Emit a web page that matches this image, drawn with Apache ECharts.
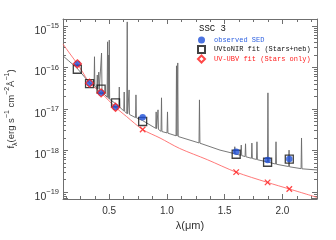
<!DOCTYPE html>
<html><head><meta charset="utf-8">
<script src="https://cdn.jsdelivr.net/npm/echarts@6/dist/echarts.min.js"></script>
<style>html,body{margin:0;padding:0;background:#fff}#c{width:336px;height:240px}</style>
</head><body><div id="c"></div>
<script>
// ---- data ----
const bandWave = [0.224, 0.330, 0.430, 0.555, 0.790, 1.600, 1.872, 2.060];
const observedFlux = [1.23e-16, 4.17e-17, 2.45e-17, 1.10e-17, 6.3e-18, 9.3e-19, 5.9e-19, 6.2e-19];
const uvNirFitFlux = [9.1e-17, 4.1e-17, 3.0e-17, 1.41e-17, 5.0e-18, 8.1e-19, 5.2e-19, 6.2e-19];
const uvUbvFitFlux = [1.23e-16, 4.2e-17, 2.45e-17, 1.10e-17, 3.2e-18, 3.0e-19, 1.7e-19, 1.18e-19];
const uvUbvInFit = [true, true, true, true, false, false, false, false];

const redModelWave = [0.10, 0.15, 0.224, 0.28, 0.33, 0.43, 0.555, 0.65, 0.79, 0.94, 1.11, 1.35, 1.60, 1.87, 2.06, 2.30];
const redModelFlux = [3.7e-16, 2.35e-16, 1.23e-16, 7.0e-17, 4.2e-17, 2.45e-17, 1.1e-17, 6.6e-18, 3.2e-18, 2.0e-18, 1.12e-18, 6.0e-19, 3.0e-19, 1.7e-19, 1.18e-19, 7.4e-20];

const specWave = [0.100, 0.150, 0.220, 0.330, 0.369, 0.3727, 0.376, 0.393, 0.397, 0.401, 0.406, 0.410, 0.414,
  0.430, 0.434, 0.438, 0.482, 0.4861, 0.490, 0.4925, 0.4959, 0.4983, 0.5007, 0.504, 0.560, 0.584, 0.5876, 0.591,
  0.626, 0.630, 0.634, 0.652, 0.6563, 0.660, 0.669, 0.6725, 0.676, 0.728, 0.732, 0.736, 0.790,
  0.903, 0.9069, 0.911, 0.919, 0.923, 0.927, 0.949, 0.9532, 0.957, 1.001, 1.005, 1.009,
  1.079, 1.083, 1.087, 1.090, 1.094, 1.098, 1.278, 1.282, 1.286, 1.460,
  1.584, 1.588, 1.592, 1.640, 1.644, 1.648, 1.677, 1.681, 1.685, 1.732, 1.736, 1.740, 1.776, 1.780, 1.784,
  1.871, 1.875, 1.879, 1.941, 1.945, 1.949, 2.054, 2.058, 2.062, 2.162, 2.166, 2.170, 2.300];
const specFlux = [1.905e-16, 1.445e-16, 9.77e-17, 4.27e-17, 3.63e-17, 1.82e-16, 3.6e-17, 3.1e-17, 6.61e-17, 3.05e-17, 2.97e-17, 7.76e-17, 2.93e-17,
  2.69e-17, 2.24e-16, 2.6e-17, 1.93e-17, 4.17e-16, 1.89e-17, 1.8e-17, 2.0e-16, 1.77e-17, 4.57e-16, 1.72e-17, 1.32e-17, 1.13e-17, 3.39e-17, 1.11e-17,
  9.0e-18, 2.57e-17, 8.8e-18, 7.8e-18, 1.26e-15, 7.7e-18, 7.45e-18, 2.88e-17, 7.37e-18, 6.2e-18, 2.19e-17, 6.13e-18, 5.25e-18,
  3.42e-18, 8.51e-18, 3.36e-18, 3.27e-18, 9.55e-18, 3.21e-18, 2.9e-18, 1.86e-17, 2.86e-18, 2.65e-18, 8.51e-18, 2.61e-18,
  2.26e-18, 1.10e-16, 2.23e-18, 2.21e-18, 1.29e-16, 2.17e-18, 1.52e-18, 1.66e-17, 1.50e-18, 1.02e-18,
  8.4e-19, 1.23e-18, 8.25e-19, 7.65e-19, 1.35e-18, 7.53e-19, 7.13e-19, 1.45e-18, 7.03e-19, 6.5e-19, 1.51e-18, 6.42e-19, 6.07e-19, 1.62e-18, 5.99e-19,
  5.28e-19, 2.45e-17, 5.22e-19, 4.71e-19, 1.62e-18, 4.65e-19, 4.1e-19, 1.02e-18, 4.04e-19, 3.65e-19, 2.0e-18, 3.61e-19, 3.39e-19];

const xRange = [0.1, 2.3];
const yRange = [6.76e-20, 1.48e-15];
const titleText = 'SSC 3';
const seriesNames = ['observed SED', 'UVtoNIR fit (Stars+neb)', 'UV-UBV fit (Stars only)'];

// ---- chart ----
const zip = (a, b) => a.map((v, i) => [v, b[i]]);
const AX = '#6f6f6f';
const FONT = 'Liberation Sans';
const MONO = 'Liberation Mono';
const CROSS = 'path://M0,0L10,10M10,0L0,10';

const xBase = (pos, labels) => ({
  type: 'value', position: pos, min: xRange[0], max: xRange[1],
  axisLine: {show: true, onZero: false, lineStyle: {color: AX, width: 1}},
  axisTick: {show: true, inside: true, length: 5, lineStyle: {color: AX}},
  minorTick: {show: true, splitNumber: 4, length: 3, lineStyle: {color: AX}},
  splitLine: {show: false},
  axisLabel: labels ? {show: true, margin: 7, color: '#333', fontFamily: FONT, fontSize: 10,
    showMinLabel: false, showMaxLabel: false, formatter: v => v.toFixed(1)} : {show: false}
});
const yBase = (pos, labels) => ({
  type: 'log', logBase: 10, position: pos, min: yRange[0], max: yRange[1],
  axisLine: {show: true, onZero: false, lineStyle: {color: AX, width: 1}},
  axisTick: {show: true, inside: true, length: 5, lineStyle: {color: AX}},
  minorTick: {show: true, splitNumber: 9, length: 3, lineStyle: {color: AX}},
  splitLine: {show: false},
  axisLabel: labels ? {show: true, margin: 4, showMinLabel: false, showMaxLabel: false,
    padding: [10, 0, 0, 0],
    formatter: v => '{b|10}{s|\u2212' + Math.abs(Math.round(Math.log10(v))) + '}',
    rich: {b: {fontSize: 10.5, color: '#333', fontFamily: FONT, lineHeight: 18},
           s: {fontSize: 7.5, color: '#333', fontFamily: FONT, verticalAlign: 'top', lineHeight: 9}}} : {show: false}
});

const xAxisMain = xBase('bottom', true);
xAxisMain.name = '\u03bb(\u03bcm)';
xAxisMain.nameLocation = 'middle';
xAxisMain.nameGap = 21;
xAxisMain.nameTextStyle = {color: '#333', fontFamily: FONT, fontSize: 11};

const yAxisMain = yBase('left', true);
yAxisMain.name = '{b|f}{d|\u03bb}{b|(erg s}{u|\u22121}{b| cm}{u|\u22122}{b|\u00c5}{u|\u22121}{b|)}';
yAxisMain.nameLocation = 'middle';
yAxisMain.nameRotate = 90;
yAxisMain.nameGap = 44;
yAxisMain.nameTextStyle = {rich: {
  b: {fontSize: 9.5, color: '#333', fontFamily: FONT, lineHeight: 15},
  u: {fontSize: 7, color: '#333', fontFamily: FONT, verticalAlign: 'top', lineHeight: 8},
  d: {fontSize: 7, color: '#333', fontFamily: FONT, verticalAlign: 'bottom', lineHeight: 8}
}};

const option = {
  animation: false,
  backgroundColor: '#fff',
  grid: {left: 63, right: 19, top: 19, bottom: 41, containLabel: false, outerBoundsMode: 'none'},
  title: {text: titleText, left: 199, top: 24, padding: 0,
    textStyle: {fontFamily: MONO, fontSize: 9, fontWeight: 'normal', color: '#111'}},
  legend: {
    orient: 'vertical', left: 197, top: 35.5, padding: 0, itemWidth: 7, itemHeight: 7, itemGap: 0.5,
    textStyle: {fontFamily: MONO, fontSize: 7, lineHeight: 9, padding: [0, 0, 0, 4]},
    data: [
      {name: seriesNames[0], textStyle: {color: '#2b5fe0'}},
      {name: seriesNames[1], textStyle: {color: '#111'}},
      {name: seriesNames[2], textStyle: {color: '#ff1f1f'}}
    ]
  },
  xAxis: [xAxisMain, xBase('top', false)],
  yAxis: [yAxisMain, yBase('right', false)],
  series: [
    {type: 'line', name: 'spectrum', data: zip(specWave, specFlux), showSymbol: false, symbol: 'none',
     lineStyle: {color: '#6a6a6a', width: 0.9}, z: 1, silent: true},
    {type: 'line', name: 'stars model', data: zip(redModelWave, redModelFlux), showSymbol: false, symbol: 'none', smooth: 0.3,
     lineStyle: {color: '#ff6a6a', width: 0.9}, z: 2, silent: true},
    {type: 'scatter', name: seriesNames[1], data: zip(bandWave, uvNirFitFlux), symbol: 'rect', symbolSize: 8,
     itemStyle: {color: 'rgba(255,255,255,0)', borderColor: '#111', borderWidth: 1.3}, z: 3},
    {type: 'scatter', name: seriesNames[0], data: zip(bandWave, observedFlux), symbol: 'circle', symbolSize: 6.5,
     itemStyle: {color: '#1f50d8', borderWidth: 0}, z: 4},
    {type: 'scatter', name: seriesNames[2], symbol: 'diamond', symbolSize: 8,
     data: bandWave.map((w, i) => uvUbvInFit[i]
        ? {value: [w, uvUbvFitFlux[i]]}
        : {value: [w, uvUbvFitFlux[i]], symbol: CROSS, symbolSize: 5.5}),
     itemStyle: {color: 'rgba(255,255,255,0)', borderColor: '#ff1a1a', borderWidth: 1.3}, z: 5}
  ]
};
const chart = echarts.init(document.getElementById('c'), null, {renderer: 'canvas'});
chart.setOption(option);
</script></body></html>
